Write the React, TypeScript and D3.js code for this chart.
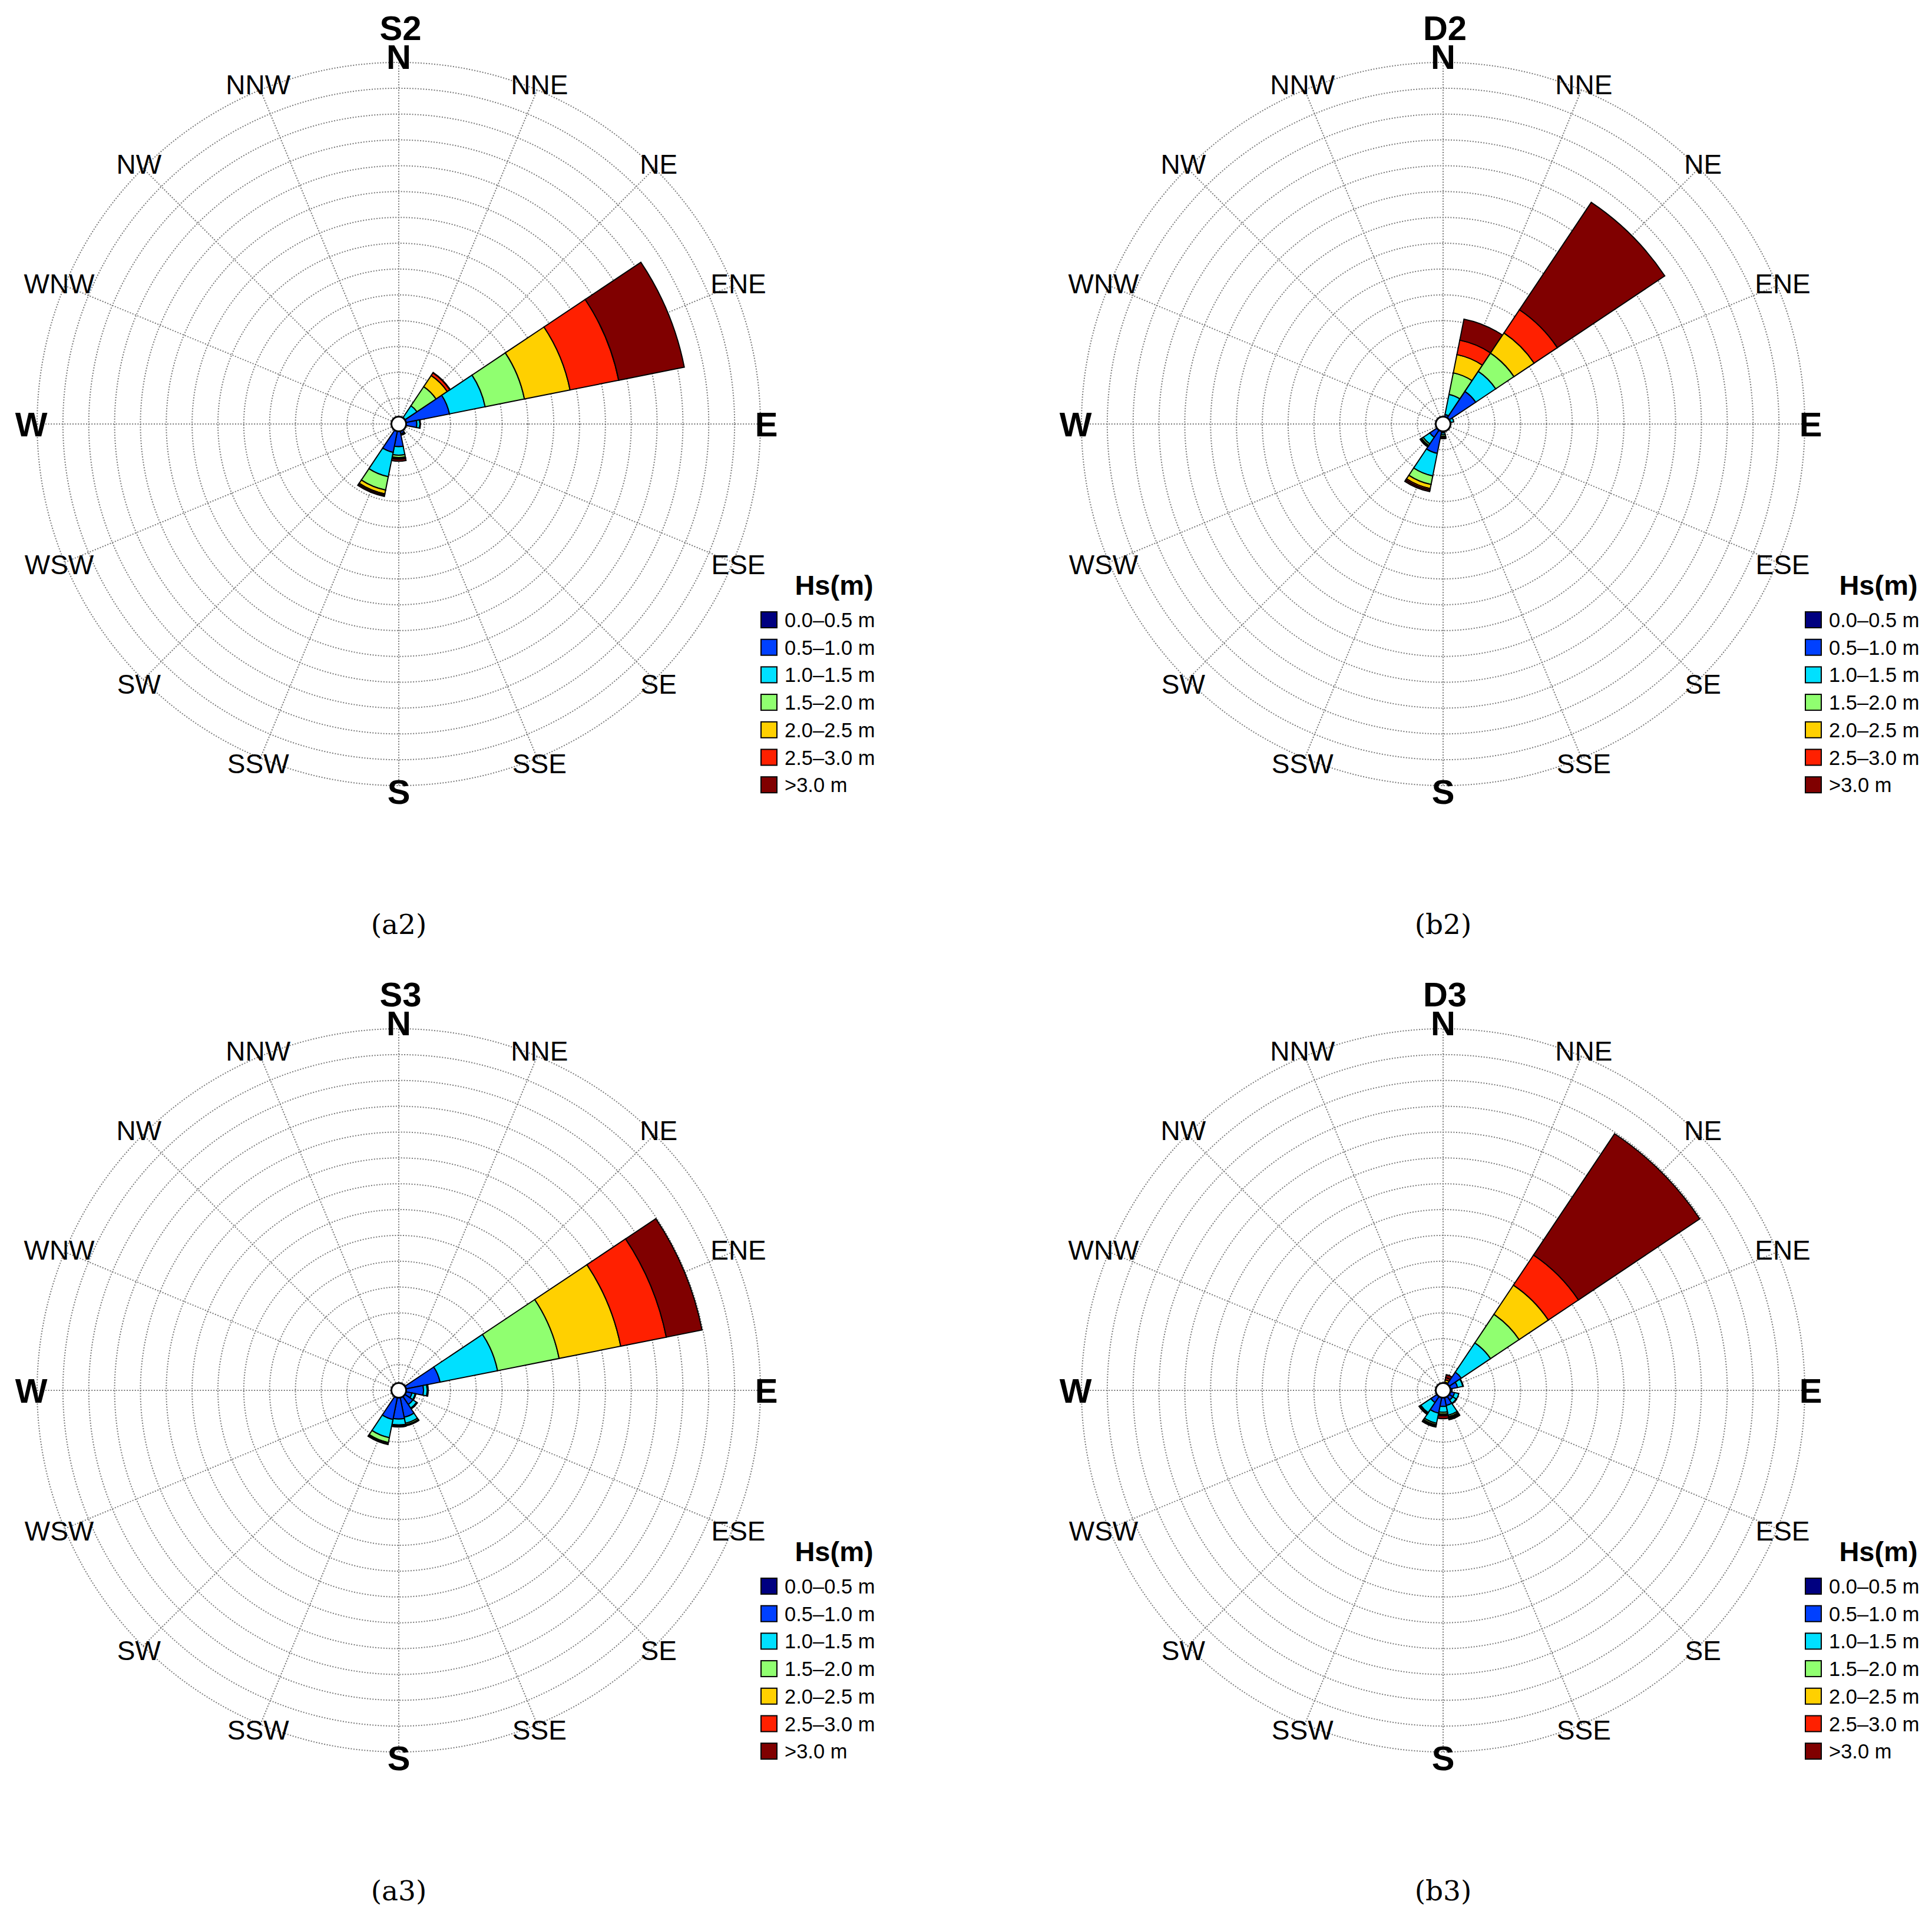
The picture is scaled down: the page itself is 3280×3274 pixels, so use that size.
import React from 'react';
import { scaleLinear, arc, range } from 'd3';

// 16 compass sectors, clockwise from north
const directions = ['N', 'NNE', 'NE', 'ENE', 'E', 'ESE', 'SE', 'SSE', 'S', 'SSW', 'SW', 'WSW', 'W', 'WNW', 'NW', 'NNW'];
const hsClasses = ['0.0\u20130.5 m', '0.5\u20131.0 m', '1.0\u20131.5 m', '1.5\u20132.0 m', '2.0\u20132.5 m', '2.5\u20133.0 m', '>3.0 m'];
const hsColors = ['#000080', '#0040ff', '#00e0ff', '#90ff70', '#ffd000', '#ff2000', '#800000'];
const ringTicks = range(5, 75, 5); // % frequency, 14 rings

const Z = [0, 0, 0, 0, 0, 0, 0];

// frequency (%) per direction (rows as in `directions`), per Hs class (columns as in `hsClasses`)
const S2 = [
  Z,
  Z,
  [0.5, 1.0, 2.75, 4.45, 2.6, 0.6, 0.1],
  [0.5, 9.5, 7.05, 7.75, 9.0, 9.6, 12.95],
  [0.5, 3.0, 0.6, 0.1, 0, 0, 0],
  Z,
  Z,
  [0.5, 1.4, 0.2, 0.1, 0, 0, 0],
  [0.5, 3.9, 1.65, 0.45, 0.15, 0.15, 0.4],
  [0.5, 5.1, 4.8, 2.65, 0.75, 0.25, 0.25],
  Z, Z, Z, Z, Z, Z,
];

const D2 = [
  Z,
  [0.5, 1.4, 3.95, 4.25, 3.6, 2.85, 4.15],
  [0.5, 7.1, 4.65, 4.25, 4.7, 5.4, 25.0],
  [0.5, 1.0, 0.6, 0, 0, 0, 0],
  Z, Z, Z, Z,
  [0.5, 1.25, 0.35, 0.3, 0.1, 0.1, 0.25],
  [0.5, 5.3, 4.45, 1.7, 0.8, 0.3, 0.3],
  [0.5, 2.6, 1.55, 0.35, 0.15, 0.1, 0.1],
  Z, Z, Z, Z, Z,
];

const S3 = [
  Z, Z, Z,
  [0.5, 7.65, 11.35, 12.15, 12.15, 9.0, 7.05],
  [0.5, 4.3, 0.7, 0.2, 0, 0, 0],
  [0.5, 2.1, 0.65, 0.15, 0, 0, 0],
  [0.5, 2.8, 0.85, 0.2, 0, 0, 0],
  [0.5, 4.8, 1.2, 0.3, 0.1, 0.05, 0.05],
  [0.5, 5.05, 1.15, 0.2, 0.1, 0.05, 0.05],
  [0.5, 5.25, 3.6, 0.95, 0.2, 0.1, 0.1],
  Z, Z, Z, Z, Z, Z,
];

const D3 = [
  Z,
  [0.5, 0.5, 0.4, 0.25, 0.45, 0.4, 0.6],
  [0.5, 3.75, 6.8, 6.65, 6.8, 7.0, 28.25],
  [0.5, 2.35, 1.05, 0.1, 0, 0, 0],
  [0.5, 1.25, 0, 0, 0, 0, 0],
  [0.5, 1.75, 0.85, 0, 0, 0, 0],
  [0.5, 1.75, 0.8, 0.1, 0, 0, 0],
  [0.5, 2.5, 1.9, 0.3, 0.2, 0.2, 0.2],
  [0.5, 2.6, 1.15, 0.35, 0.15, 0.15, 0.6],
  [0.5, 4.0, 2.0, 0.3, 0.2, 0.1, 0.15],
  [0.5, 2.35, 2.35, 0.2, 0.1, 0.05, 0.05],
  Z, Z, Z, Z, Z,
];

const panelTitles = ['S2', 'D2', 'S3', 'D3'];
const panelTags = ['(a2)', '(b2)', '(a3)', '(b3)'];
const panelData = [S2, D2, S3, D3];

const W = 3280;
const H = 3274;
const R = 614;
const SANS = '"Liberation Sans", Arial, Helvetica, sans-serif';
const GRID = '#7a7a7a';

const rScale = scaleLinear().domain([0, 70]).range([0, R]);
const half = Math.PI / 16;
const arcGen = arc<any>();

const Rose = ({ data, title, tag, cx, cy }: { data: number[][]; title: string; tag: string; cx: number; cy: number }) => {
  const segs: { d: string; fill: string }[] = [];
  data.forEach((row, i) => {
    const a = (i * Math.PI) / 8;
    let acc = 0;
    row.forEach((v, k) => {
      if (v <= 0) return;
      const inner = acc;
      acc += v;
      segs.push({
        d: arcGen({ innerRadius: rScale(inner), outerRadius: rScale(acc), startAngle: a - half, endAngle: a + half }) as string,
        fill: hsColors[k],
      });
    });
  });

  const labelR = 624;

  return (
    <g transform={`translate(${cx},${cy})`}>
      {ringTicks.map((t) => (
        <circle key={t} r={rScale(t)} fill="none" stroke={GRID} strokeWidth={2} strokeDasharray="2 2.6" />
      ))}
      {directions.map((d, i) => {
        const a = (i * Math.PI) / 8;
        return (
          <line key={d} x1={0} y1={0} x2={R * Math.sin(a)} y2={-R * Math.cos(a)}
            stroke={GRID} strokeWidth={2} strokeDasharray="2 2.6" />
        );
      })}
      {segs.map((s, i) => (
        <path key={i} d={s.d} fill={s.fill} stroke="#000" strokeWidth={2} strokeLinejoin="miter" />
      ))}
      <circle r={12.5} fill="#fff" stroke="#000" strokeWidth={3} />
      {directions.map((d, i) => {
        const a = (i * Math.PI) / 8;
        const card = i % 4 === 0;
        const fs = card ? 58 : 46;
        return (
          <text key={d} x={labelR * Math.sin(a)} y={-labelR * Math.cos(a) + 0.358 * fs}
            textAnchor="middle" fontFamily={SANS} fontSize={fs} fontWeight={card ? 'bold' : 'normal'}>
            {d}
          </text>
        );
      })}
      <text x={3} y={-652} textAnchor="middle" fontFamily={SANS} fontSize={58} fontWeight="bold">{title}</text>
      <text x={739} y={290} textAnchor="middle" fontFamily={SANS} fontSize={47} fontWeight="bold">Hs(m)</text>
      {hsClasses.map((c, k) => (
        <g key={c} transform={`translate(615,${319 + k * 46.7})`}>
          <rect width={27} height={27} fill={hsColors[k]} stroke="#000" strokeWidth={2} />
          <text x={40} y={26} fontFamily={SANS} fontSize={34.5}>{c}</text>
        </g>
      ))}
      <text x={0} y={866} textAnchor="middle" fontFamily='"DejaVu Serif", "Liberation Serif", serif' fontSize={47}>{tag}</text>
    </g>
  );
};

export default function App() {
  return (
    <svg width={W} height={H} style={{ position: 'absolute', left: 0, top: 0, background: '#fff' }}>
      <rect width={W} height={H} fill="#fff" />
      {panelData.map((data, p) => (
        <Rose key={p} data={data} title={panelTitles[p]} tag={panelTags[p]}
          cx={677 + (p % 2) * 1773} cy={720 + Math.floor(p / 2) * 1641} />
      ))}
    </svg>
  );
}
